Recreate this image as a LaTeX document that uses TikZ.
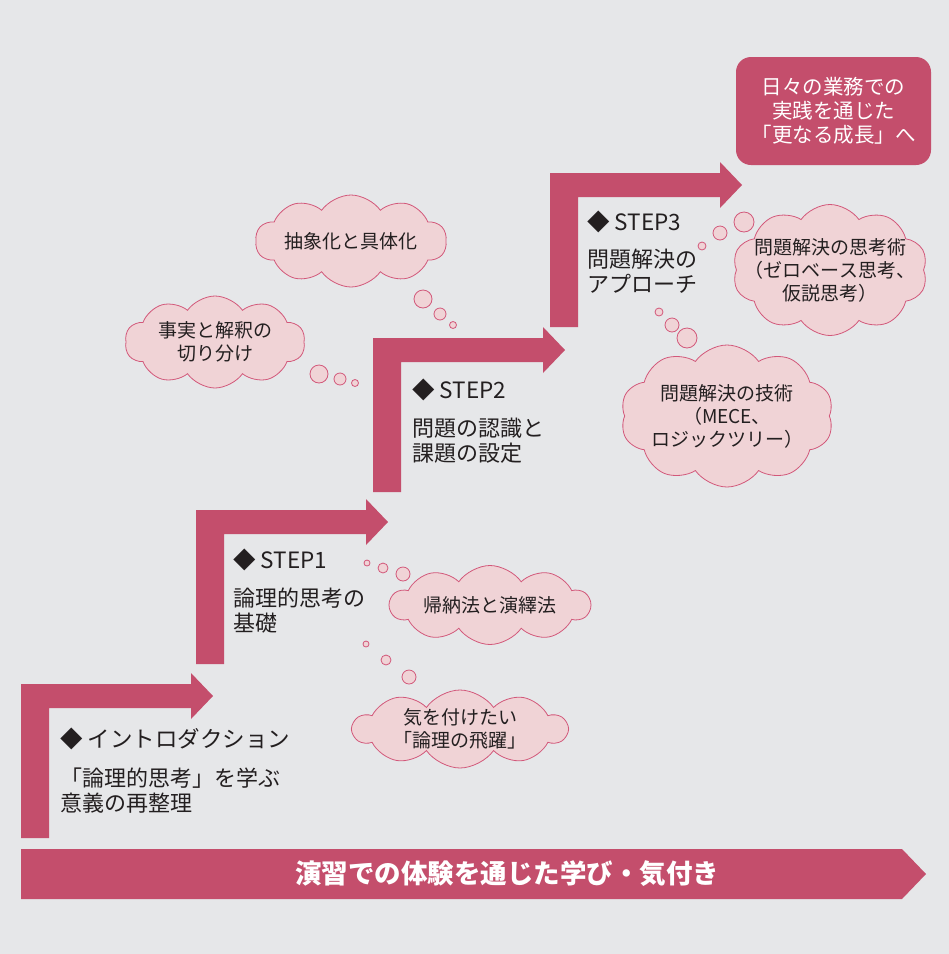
\documentclass[tikz,border=0pt]{standalone}
\usepackage{fontspec}
\setmainfont{Noto Sans CJK JP}
\usetikzlibrary{shapes.symbols}
\definecolor{stepred}{HTML}{C44E6C}
\definecolor{paper}{HTML}{E6E7E9}
\definecolor{cloudfill}{HTML}{F0D3D6}
\definecolor{cloudline}{HTML}{D2587A}
\definecolor{ink}{HTML}{231F20}
\begin{document}
\begin{tikzpicture}[x=1pt, y=-1pt]
    % Styles
    \tikzstyle{stepbar} = [fill=stepred]
    \tikzstyle{stephead} = [anchor=west, text=ink, inner sep=0pt, font=\fontsize{22.5}{26}\selectfont]
    \tikzstyle{stepbody} = [anchor=west, align=left, text=ink, inner sep=0pt, font=\fontsize{22}{25}\selectfont]
    \tikzstyle{thought} = [cloud, cloud puffs=10, cloud puff arc=110, cloud ignores aspect, draw=cloudline, fill=cloudfill, line width=0.8pt, inner sep=0pt]
    \tikzstyle{thoughttext} = [align=center, text=ink, inner sep=0pt, font=\fontsize{19}{23}\selectfont]
    \tikzstyle{bubble} = [draw=cloudline, fill=cloudfill, line width=0.8pt]
    \tikzstyle{goalbox} = [fill=stepred, rounded corners=15pt, minimum width=195pt, minimum height=108pt, align=center, text=white, font=\fontsize{20.5}{24}\selectfont]

    % Background
    \fill[paper] (0,0) rectangle (949,954);
    \useasboundingbox (0,0) rectangle (949,954);

    % Step arrows
    \foreach \x/\y in {21/684, 196/510, 373/338, 550/173}
        \fill[stepbar] (\x,\y) -- ++(170,0) -- ++(0,-11) -- ++(22,23) -- ++(-22,23) -- ++(0,-11) -- ++(-142,0) -- ++(0,130) -- ++(-28,0) -- cycle;

    % Base bar
    \fill[stepbar] (21,849) -- (902,849) -- (926,874) -- (902,899) -- (21,899) -- cycle;
    \node[text=white, font=\fontsize{26.5}{28}\selectfont\bfseries] (base) at (507,874) {演習での体験を通じた学び・気付き};

    % Step texts
    \node[stephead] (introhead) at (60,739) {◆ イントロダクション};
    \node[stepbody] (introbody) at (60,791) {「論理的思考」を学ぶ\\意義の再整理};
    \node[stephead] (step1head) at (233,560) {◆ STEP1};
    \node[stepbody] (step1body) at (233,610.5) {論理的思考の\\基礎};
    \node[stephead] (step2head) at (412,390) {◆ STEP2};
    \node[stepbody] (step2body) at (412,440.5) {問題の認識と\\課題の設定};
    \node[stephead] (step3head) at (587,222) {◆ STEP3};
    \node[stepbody] (step3body) at (587,271.5) {問題解決の\\アプローチ};

    % Goal
    \node[goalbox] (goal) at (833.5,111) {日々の業務での\\実践を通じた\\「更なる成長」へ};

    % Thought clouds
    \node[thought, minimum width=191pt, minimum height=92pt] (abstract) at (351,241) {};
    \node[thoughttext] at (abstract) {抽象化と具体化};
    \node[thought, minimum width=180pt, minimum height=92pt] (fact) at (215,342) {};
    \node[thoughttext] at (fact) {事実と解釈の\\切り分け};
    \node[thought, minimum width=200pt, minimum height=79pt] (induct) at (490,605) {};
    \node[thoughttext] at (induct) {帰納法と演繹法};
    \node[thought, minimum width=214pt, minimum height=78pt] (leap) at (460,729) {};
    \node[thoughttext] at (leap) {気を付けたい\\「論理の飛躍」};
    \node[thought, minimum width=195pt, minimum height=131pt] (zerobase) at (830,270) {};
    \node[thoughttext] at (zerobase) {問題解決の思考術\\（ゼロベース思考、\\仮説思考）};
    \node[thought, minimum width=213pt, minimum height=142pt] (mece) at (727,416) {};
    \node[thoughttext] at (mece) {問題解決の技術\\（MECE、\\ロジックツリー）};

    % Bubbles
    \draw[bubble] (423,299) circle (9) (440,314) circle (6) (453,325) circle (3.5);
    \draw[bubble] (319,374) circle (9) (340,379) circle (6) (355,383) circle (3.5);
    \draw[bubble] (367,563) circle (3) (383,568) circle (5) (403,574) circle (7);
    \draw[bubble] (366,644) circle (3) (386,660) circle (5) (409,677) circle (7);
    \draw[bubble] (702,246) circle (4) (720,233) circle (7) (744,222) circle (10);
    \draw[bubble] (659,312) circle (4) (672,325) circle (7) (687,338) circle (10);
\end{tikzpicture}
\end{document}
